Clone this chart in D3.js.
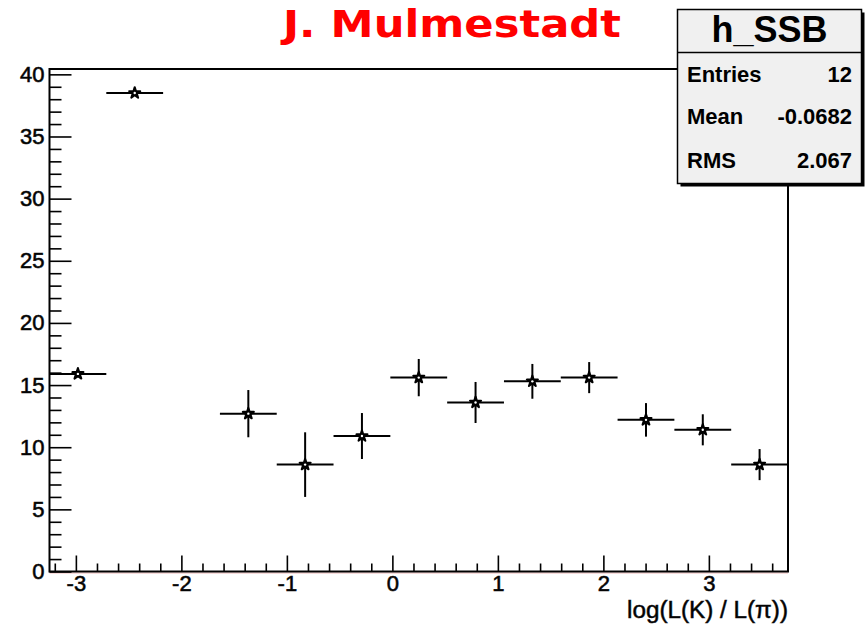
<!DOCTYPE html>
<html>
<head>
<meta charset="utf-8">
<script src="https://cdn.jsdelivr.net/npm/d3@7/dist/d3.min.js"></script>
<style>
  html, body { margin: 0; padding: 0; background: #fff; }
  svg { display: block; }
  text { font-family: "Liberation Sans", Arial, sans-serif; fill: #000; }
</style>
</head>
<body>
<svg id="chart" width="865" height="624"></svg>
<script>
// Histogram h_SSB: 13 bins on [-3.25, 3.75]
const histRange = [-3.25, 3.75];
const binCount = 13;
const binContent = [15.9, 38.5, 0, 12.7, 8.6, 10.9, 15.6, 13.6, 15.3, 15.6, 12.2, 11.4, 8.6];
const binError   = [0, 0, 0, 1.9, 2.6, 1.85, 1.5, 1.65, 1.4, 1.25, 1.35, 1.25, 1.25];

const xMajorTicks = [-3, -2, -1, 0, 1, 2, 3];
const yMajorTicks = [0, 5, 10, 15, 20, 25, 30, 35, 40];
const yMax = 40.43;

const titleText = "J. Mulmestadt";
const axisTitle = "log(L(K) / L(\u03c0))";
const statsName = "h_SSB";
const statsLabels = ["Entries", "Mean", "RMS"];
const statsValues = ["12", "-0.0682", "2.067"];

const svg = d3.select("#chart");
const frame = { left: 49.5, right: 788, top: 69, bottom: 571.5 };

const x = d3.scaleLinear().domain(histRange).range([frame.left, frame.right]);
const y = d3.scaleLinear().domain([0, yMax]).range([frame.bottom, frame.top]);

const binWidth = (histRange[1] - histRange[0]) / binCount;
const bins = binContent.map((v, i) => ({
  lo: histRange[0] + i * binWidth,
  hi: histRange[0] + (i + 1) * binWidth,
  c: histRange[0] + (i + 0.5) * binWidth,
  v, e: binError[i]
})).filter(d => d.v > 0);

// faint histogram baseline under the x axis
svg.append("line")
  .attr("x1", frame.left).attr("x2", frame.right)
  .attr("y1", frame.bottom + 1.5).attr("y2", frame.bottom + 1.5)
  .attr("stroke", "#f0b8b8").attr("stroke-width", 1);

// minor ticks
const xMinor = d3.range(-3.2, 3.75, 0.2).map(v => +v.toFixed(2)).filter(v => !xMajorTicks.some(m => Math.abs(m - v) < 1e-6));
const yMinor = d3.range(1, 40.01, 1).filter(v => v % 5 !== 0);

const xAxisMinor = d3.axisBottom(x).tickValues(xMinor).tickSize(-8).tickSizeOuter(0).tickFormat("");
const xAxis = d3.axisBottom(x).tickValues(xMajorTicks).tickSize(-16).tickSizeOuter(0)
  .tickPadding(4).tickFormat(d => String(d));
const yAxisMinor = d3.axisLeft(y).tickValues(yMinor).tickSize(-12).tickSizeOuter(0).tickFormat("");
const yAxis = d3.axisLeft(y).tickValues(yMajorTicks).tickSize(-22).tickSizeOuter(0)
  .tickPadding(5).tickFormat(d => String(d));

function styleAxis(g) {
  g.select(".domain").remove();
  g.selectAll(".tick line").attr("stroke", "#000").attr("stroke-width", 1.6);
  g.selectAll(".tick text").style("font-size", "22px").style("font-family", "'Liberation Sans', Arial, sans-serif")
    .attr("fill", "#111").attr("stroke", "#111").attr("stroke-width", 0.6);
}

svg.append("g").attr("transform", `translate(0,${frame.bottom})`).call(xAxisMinor).call(styleAxis);
svg.append("g").attr("transform", `translate(0,${frame.bottom})`).call(xAxis).call(styleAxis);
svg.append("g").attr("transform", `translate(${frame.left},0)`).call(yAxisMinor).call(styleAxis);
svg.append("g").attr("transform", `translate(${frame.left},0)`).call(yAxis).call(styleAxis);

// frame
svg.append("rect")
  .attr("x", frame.left).attr("y", frame.top)
  .attr("width", frame.right - frame.left).attr("height", frame.bottom - frame.top)
  .attr("fill", "none").attr("stroke", "#000").attr("stroke-width", 2);

// error bars
const marks = svg.append("g");
marks.selectAll("line.h").data(bins).join("line")
  .attr("class", "h")
  .attr("x1", d => x(d.lo)).attr("x2", d => x(d.hi))
  .attr("y1", d => y(d.v)).attr("y2", d => y(d.v))
  .attr("stroke", "#000").attr("stroke-width", 2);
marks.selectAll("line.v").data(bins.filter(d => d.e > 0)).join("line")
  .attr("class", "v")
  .attr("x1", d => x(d.c)).attr("x2", d => x(d.c))
  .attr("y1", d => y(d.v - d.e)).attr("y2", d => y(d.v + d.e))
  .attr("stroke", "#000").attr("stroke-width", 2);

// star markers with a light centre
const star = d3.symbol().type(d3.symbolStar).size(38);
marks.selectAll("path.m").data(bins).join("path")
  .attr("class", "m")
  .attr("transform", d => `translate(${x(d.c)},${y(d.v)})`)
  .attr("d", star).attr("fill", "#000")
  .attr("stroke", "#000").attr("stroke-width", 2).attr("stroke-linejoin", "round");
marks.selectAll("circle.m").data(bins).join("circle")
  .attr("class", "m")
  .attr("cx", d => x(d.c)).attr("cy", d => y(d.v))
  .attr("r", 1.2).attr("fill", "#fff");

// axis title
svg.append("text")
  .attr("x", 788).attr("y", 618)
  .attr("text-anchor", "end")
  .attr("textLength", 161).attr("lengthAdjust", "spacingAndGlyphs")
  .style("font-size", "23px")
  .attr("fill", "#111").attr("stroke", "#111").attr("stroke-width", 0.5)
  .text(axisTitle);

// plot title
svg.append("text")
  .attr("x", 283).attr("y", 37)
  .attr("textLength", 338).attr("lengthAdjust", "spacingAndGlyphs")
  .style("font-family", "'DejaVu Sans', sans-serif")
  .style("font-weight", "bold").style("font-size", "37px")
  .style("fill", "#ff0000")
  .text(titleText);

// statistics box
const sb = { x: 677.5, y: 9.5, w: 184, h: 174 };
const stats = svg.append("g");
stats.append("rect")
  .attr("x", sb.x + 3).attr("y", sb.y + 3).attr("width", sb.w).attr("height", sb.h)
  .attr("fill", "#000");
stats.append("rect")
  .attr("x", sb.x).attr("y", sb.y).attr("width", sb.w).attr("height", sb.h)
  .attr("fill", "#f0f0f0").attr("stroke", "#000").attr("stroke-width", 1.5);
stats.append("line")
  .attr("x1", sb.x).attr("x2", sb.x + sb.w).attr("y1", 52.5).attr("y2", 52.5)
  .attr("stroke", "#000").attr("stroke-width", 1.5);
stats.append("text")
  .attr("x", sb.x + sb.w / 2).attr("y", 42).attr("text-anchor", "middle")
  .style("font-size", "36px").style("font-weight", "bold")
  .text(statsName);
const rowY = [82, 124, 168];
stats.selectAll("text.lab").data(statsLabels).join("text")
  .attr("class", "lab")
  .attr("x", 687).attr("y", (d, i) => rowY[i])
  .style("font-size", "22px").style("font-weight", "bold").attr("fill", "#111")
  .text(d => d);
stats.selectAll("text.val").data(statsValues).join("text")
  .attr("class", "val")
  .attr("x", 852).attr("y", (d, i) => rowY[i]).attr("text-anchor", "end")
  .style("font-size", "22px").style("font-weight", "bold").attr("fill", "#111")
  .text(d => d);
</script>
</body>
</html>
